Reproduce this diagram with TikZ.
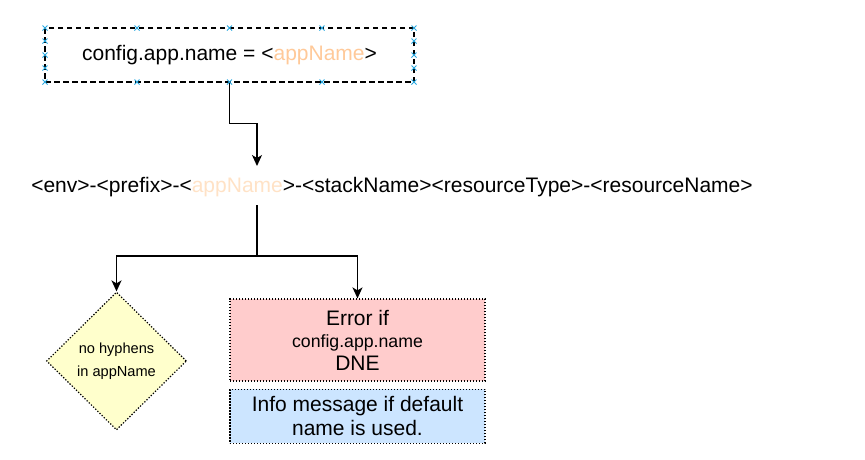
\documentclass[tikz,border=0pt]{standalone}
\usepackage{fontspec}
\setmainfont{Liberation Sans}
\usetikzlibrary{positioning}
\usetikzlibrary{shapes.geometric}
\usetikzlibrary{arrows.meta}
\definecolor{namecol}{HTML}{FFC999}
\definecolor{namecollight}{HTML}{FFE2C6}
\definecolor{errfill}{HTML}{FFCCCC}
\definecolor{infofill}{HTML}{CCE5FF}
\definecolor{checkfill}{HTML}{FFFFCC}
\definecolor{handle}{HTML}{29A8E0}
\tikzset{
	every node/.style = {font=\fontsize{21}{24}\selectfont},
	cfgbox/.style = {draw, line width=1.4pt, dash pattern=on 5.5pt off 3.5pt, inner sep=0pt, minimum width=369pt, minimum height=54pt},
	dotbox/.style = {draw, line width=1.2pt, dash pattern=on 1.3pt off 1.7pt, inner sep=0pt, minimum width=255pt, align=center},
	checkdiam/.style = {diamond, draw, fill=checkfill, line width=1.2pt, dash pattern=on 1.3pt off 1.7pt, inner sep=0pt, minimum width=140pt, minimum height=138pt, align=center},
	arr/.style = {-{Stealth[length=11pt, width=10pt, inset=3pt]}, line width=1.5pt},
	mark x/.style = {handle, line width=0.9pt}
}

\begin{document}
\begin{tikzpicture}[x=1pt, y=-1pt]
		\useasboundingbox (0,0) rectangle (865,459);
		% config box
		\node[cfgbox] (cfg) at (229.5,55) {config.app.name = <\textcolor{namecol}{appName}>};
		\foreach \x in {45,137,229.5,322,414} {
			\draw[mark x] (\x-2.5,25.5) -- (\x+2.5,30.5) (\x-2.5,30.5) -- (\x+2.5,25.5);
			\draw[mark x] (\x-2.5,79.5) -- (\x+2.5,84.5) (\x-2.5,84.5) -- (\x+2.5,79.5);
		}
		\foreach \x in {45,414} {
			\foreach \y in {41,55,68} {
				\draw[mark x] (\x-2.5,\y-2.5) -- (\x+2.5,\y+2.5) (\x-2.5,\y+2.5) -- (\x+2.5,\y-2.5);
			}
		}
		% name format
		\node (fmt) at (392,187) {<env>-<prefix>-<\textcolor{namecollight}{appName}>-<stackName><resourceType>-<resourceName>};
		\coordinate (fmtin) at (257,166);
		\coordinate (fmtout) at (257,205);
		\draw[arr] (cfg.south) -- ++(0,41) -| (fmtin);
		% checks
		\node[checkdiam, font=\fontsize{14.6}{23}\selectfont] (hyph) at (116.5,361) {no hyphens\\in appName};
		\node[dotbox, fill=errfill, minimum height=82pt] (err) at (357.5,340) {Error if\\[-2pt]{\fontsize{17.7}{20}\selectfont config.app.name}\\[-1pt]DNE};
		\node[dotbox, fill=infofill, minimum height=54pt, below=7pt of err] (info) {Info message if default\\name is used.};
		\coordinate (split) at (257,256);
		\draw[line width=1.5pt] (fmtout) -- (split);
		\draw[arr] (split) -| (hyph.north);
		\draw[arr] (split) -| (err.north);
	\end{tikzpicture}
\end{document}
